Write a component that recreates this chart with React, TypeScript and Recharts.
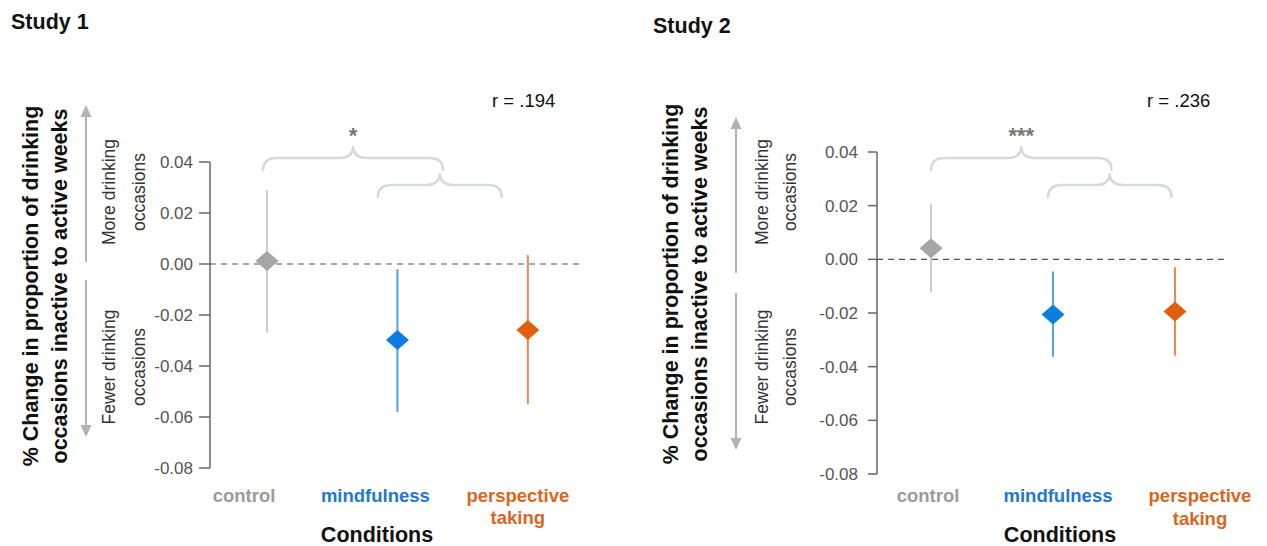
import React from "react";
import { ComposedChart, Scatter, ErrorBar, XAxis, YAxis, ReferenceLine } from "recharts";

// ---------- data ----------
const categoryLabels = ["control", "mindfulness", "perspective\ntaking"];
const categoryIndex = [1, 2, 3];
const yTicks = [-0.08, -0.06, -0.04, -0.02, 0, 0.02, 0.04];

const study1Mean = [0.0012, -0.0298, -0.0259];
const study1Lower = [-0.027, -0.058, -0.055];
const study1Upper = [0.029, -0.002, 0.0035];

const study2Mean = [0.0041, -0.0206, -0.0194];
const study2Lower = [-0.0123, -0.0363, -0.0359];
const study2Upper = [0.0205, -0.0045, -0.003];

const titles = ["Study 1", "Study 2"];
const correlations = ["r = .194", "r = .236"];
const significance = ["*", "***"];

// ---------- styles ----------
const FONT = "'Liberation Sans', Arial, Helvetica, sans-serif";
const markerColors = ["#a6a6a6", "#0b7de0", "#e0600f"];
const errorColors = ["#cccccc", "#4fa3ec", "#ea8a4c"];
const labelColors = ["#9b9b9b", "#1f78d1", "#d9661e"];
const braceColor = "#d5d9e0";

type Panel = {
  left: number;
  width: number;
  plotLeft: number; // global
  plotRight: number; // global
  plotTop: number;
  plotBottom: number;
  xDomain: [number, number];
  mean: number[];
  lower: number[];
  upper: number[];
  labelDx: number[];
  labelDy: number;
  labelLineHeight: number;
  tickSize: number;
  tickMargin: number;
  titleX: number;
  titleY: number;
  yLabelX: [number, number];
  yLabelY: number;
  arrowX: number;
  arrowUp: [number, number];
  arrowDown: [number, number];
  sideX: [number, number];
  rX: number;
  bigBrace: [number, number];
  smallBrace: [number, number];
  conditionsX: number;
};

const panels: Panel[] = [
  {
    left: 0,
    width: 633,
    plotLeft: 210,
    plotRight: 580,
    plotTop: 162,
    plotBottom: 468,
    xDomain: [0.563, 3.4],
    mean: study1Mean,
    lower: study1Lower,
    upper: study1Upper,
    labelDx: [-23, -22, -10],
    labelDy: 34,
    labelLineHeight: 22,
    tickSize: 11,
    tickMargin: 6,
    titleX: 11,
    titleY: 29,
    yLabelX: [31, 60],
    yLabelY: 286,
    arrowX: 86,
    arrowUp: [105, 262],
    arrowDown: [280, 437],
    sideX: [109, 139],
    rX: 492,
    bigBrace: [0.97, 2.35],
    smallBrace: [1.85, 2.8],
    conditionsX: 377,
  },
  {
    left: 633,
    width: 634,
    plotLeft: 877,
    plotRight: 1225,
    plotTop: 152,
    plotBottom: 474,
    xDomain: [0.557, 3.41],
    mean: study2Mean,
    lower: study2Lower,
    upper: study2Upper,
    labelDx: [-3, 5, 25],
    labelDy: 28,
    labelLineHeight: 23,
    tickSize: 9,
    tickMargin: 10,
    titleX: 653,
    titleY: 33,
    yLabelX: [671, 700],
    yLabelY: 284,
    arrowX: 736,
    arrowUp: [117, 273],
    arrowDown: [293, 450],
    sideX: [762, 790],
    rX: 1147,
    bigBrace: [1.0, 2.48],
    smallBrace: [1.96, 2.97],
    conditionsX: 1060,
  },
];

const W = 1267;
const H = 546;
const Y_AXIS_W = 60;
const X_AXIS_H = 30;

function Diamond(props: any) {
  const { cx, cy, fill } = props;
  if (cx == null || cy == null) return null;
  const hw = 11.5;
  const hh = 10;
  return <path d={`M ${cx} ${cy - hh} L ${cx + hw} ${cy} L ${cx} ${cy + hh} L ${cx - hw} ${cy} Z`} fill={fill} />;
}

function makeTick(panel: Panel) {
  return function CategoryTick(props: any) {
    const { x, y, payload } = props;
    const i = Math.round(payload.value) - 1;
    if (i < 0 || i >= categoryLabels.length) return null;
    const lines = categoryLabels[i].split("\n");
    return (
      <text
        x={x + panel.labelDx[i]}
        y={y + panel.labelDy}
        textAnchor="middle"
        fontFamily={FONT}
        fontWeight="bold"
        fontSize={18.5}
        fill={labelColors[i]}
      >
        {lines.map((l, k) => (
          <tspan key={k} x={x + panel.labelDx[i]} dy={k === 0 ? 0 : panel.labelLineHeight}>
            {l}
          </tspan>
        ))}
      </text>
    );
  };
}

function PanelChart({ panel }: { panel: Panel }) {
  const localPlotLeft = panel.plotLeft - panel.left;
  const localPlotRight = panel.plotRight - panel.left;
  const margin = {
    top: panel.plotTop,
    right: panel.width - localPlotRight,
    bottom: H - panel.plotBottom - X_AXIS_H,
    left: localPlotLeft - Y_AXIS_W,
  };
  return (
    <div style={{ position: "absolute", left: panel.left, top: 0 }}>
      <ComposedChart width={panel.width} height={H} margin={margin}>
        <XAxis
          type="number"
          dataKey="x"
          domain={panel.xDomain}
          ticks={categoryIndex}
          allowDataOverflow
          axisLine={false}
          tickLine={false}
          tickSize={0}
          tickMargin={0}
          height={X_AXIS_H}
          interval={0}
          tick={makeTick(panel)}
        />
        <YAxis
          type="number"
          domain={[-0.08, 0.04]}
          ticks={yTicks}
          allowDataOverflow
          width={Y_AXIS_W}
          tickFormatter={(v: number) => v.toFixed(2)}
          tick={{ fontSize: 17, fill: "#555", fontFamily: FONT }}
          tickSize={panel.tickSize}
          tickMargin={panel.tickMargin}
          stroke="#666"
          strokeWidth={1.5}
        />
        <ReferenceLine y={0} stroke="#555" strokeWidth={1.2} strokeDasharray="6 5" />
        {categoryIndex.map((cx, i) => (
          <Scatter
            key={i}
            data={[{ x: cx, y: panel.mean[i], err: [panel.mean[i] - panel.lower[i], panel.upper[i] - panel.mean[i]] }]}
            dataKey="y"
            fill={markerColors[i]}
            shape={<Diamond fill={markerColors[i]} />}
            isAnimationActive={false}
          >
            <ErrorBar dataKey="err" direction="y" width={0} stroke={errorColors[i]} strokeWidth={2} isAnimationActive={false} />
          </Scatter>
        ))}
      </ComposedChart>
    </div>
  );
}

function xPix(panel: Panel, v: number) {
  const [a, b] = panel.xDomain;
  return panel.plotLeft + ((v - a) / (b - a)) * (panel.plotRight - panel.plotLeft);
}

function Brace({ x1, x2, y, h }: { x1: number; x2: number; y: number; h: number }) {
  const xm = (x1 + x2) / 2;
  const r = Math.min(14, (x2 - x1) / 4);
  const d = `M ${x1} ${y + h} Q ${x1} ${y} ${x1 + r} ${y} L ${xm - r} ${y} Q ${xm} ${y} ${xm} ${y - h} Q ${xm} ${y} ${xm + r} ${y} L ${x2 - r} ${y} Q ${x2} ${y} ${x2} ${y + h}`;
  return <path d={d} fill="none" stroke={braceColor} strokeWidth={2.5} strokeLinecap="round" />;
}

function Arrow({ x, tip, end, up }: { x: number; tip: number; end: number; up: boolean }) {
  const hs = 12;
  const hw = 5.5;
  const base = up ? tip + hs : tip - hs;
  return (
    <g>
      <line x1={x} y1={base} x2={x} y2={end} stroke="#b3b3b3" strokeWidth={2} />
      <path d={`M ${x} ${tip} L ${x + hw} ${base} L ${x - hw} ${base} Z`} fill="#b3b3b3" />
    </g>
  );
}

function Overlay() {
  return (
    <svg width={W} height={H} style={{ position: "absolute", left: 0, top: 0, pointerEvents: "none" }}>
      {panels.map((p, k) => {
        const big1 = xPix(p, p.bigBrace[0]);
        const big2 = xPix(p, p.bigBrace[1]);
        const sm1 = xPix(p, p.smallBrace[0]);
        const sm2 = xPix(p, p.smallBrace[1]);
        return (
          <g key={k} fontFamily={FONT}>
            <text x={p.titleX} y={p.titleY} fontSize={21.5} fontWeight="bold" fill="#111">
              {titles[k]}
            </text>
            <text
              transform={`translate(${p.yLabelX[0]}, ${p.yLabelY}) rotate(-90)`}
              textAnchor="middle"
              dominantBaseline="central"
              fontSize={21.5}
              fontWeight="bold"
              fill="#111"
            >
              % Change in proportion of drinking
            </text>
            <text
              transform={`translate(${p.yLabelX[1]}, ${p.yLabelY}) rotate(-90)`}
              textAnchor="middle"
              dominantBaseline="central"
              fontSize={21.5}
              fontWeight="bold"
              fill="#111"
            >
              occasions inactive to active weeks
            </text>
            <Arrow x={p.arrowX} tip={p.arrowUp[0]} end={p.arrowUp[1]} up />
            <Arrow x={p.arrowX} tip={p.arrowDown[1]} end={p.arrowDown[0]} up={false} />
            <text transform={`translate(${p.sideX[0]}, 192) rotate(-90)`} textAnchor="middle" dominantBaseline="central" fontSize={17.5} fill="#333">
              More drinking
            </text>
            <text transform={`translate(${p.sideX[1]}, 192) rotate(-90)`} textAnchor="middle" dominantBaseline="central" fontSize={17.5} fill="#333">
              occasions
            </text>
            <text transform={`translate(${p.sideX[0]}, 367) rotate(-90)`} textAnchor="middle" dominantBaseline="central" fontSize={17.5} fill="#333">
              Fewer drinking
            </text>
            <text transform={`translate(${p.sideX[1]}, 367) rotate(-90)`} textAnchor="middle" dominantBaseline="central" fontSize={17.5} fill="#333">
              occasions
            </text>
            <text x={p.rX} y={107} fontSize={18.5} fill="#111">
              {correlations[k]}
            </text>
            <Brace x1={big1} x2={big2} y={158} h={12} />
            <Brace x1={sm1} x2={sm2} y={185} h={12} />
            <text x={(big1 + big2) / 2} y={143} textAnchor="middle" fontSize={22} fontWeight="bold" fill="#777">
              {significance[k]}
            </text>
            <text x={p.conditionsX} y={542} textAnchor="middle" fontSize={21.5} fontWeight="bold" fill="#111">
              Conditions
            </text>
          </g>
        );
      })}
    </svg>
  );
}

export default function App() {
  return (
    <div style={{ position: "absolute", left: 0, top: 0, width: W, height: H, background: "#fff", overflow: "hidden" }}>
      {panels.map((p, k) => (
        <PanelChart key={k} panel={p} />
      ))}
      <Overlay />
    </div>
  );
}
